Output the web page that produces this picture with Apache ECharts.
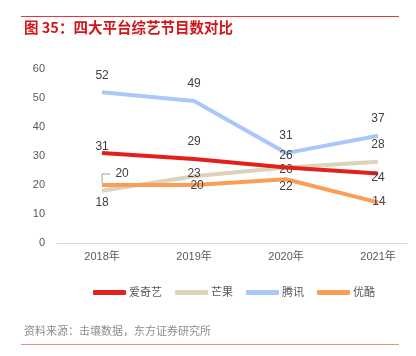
<!DOCTYPE html>
<html><head><meta charset="utf-8">
<script src="https://cdn.jsdelivr.net/npm/echarts@6/dist/echarts.min.js"></script>
<style>html,body{margin:0;padding:0;background:#fff}#c{width:416px;height:356px}</style>
</head><body><div id="c"></div>
<script>
const categories = ['2018年', '2019年', '2020年', '2021年'];
const iqiyi = [31, 29, 26, 24];
const mango = [18, 23, 26, 28];
const tencent = [52, 49, 31, 37];
const youku = [20, 20, 22, 14];
const yTicks = [0, 10, 20, 30, 40, 50, 60];
const seriesNames = ['爱奇艺', '芒果', '腾讯', '优酷'];

const colors = ['#e3201b', '#ddd3bc', '#a8c8fa', '#fb9d55'];
// label offsets (px) relative to each point, style only
const labelOffsets = [
  [[0, -6], [0, -17], [0, -12], [0, 4]],
  [[0, 12], [0, -3], [0, 2], [0, -17]],
  [[0, -17], [0, -17], [0, -17], [0, -17]],
  [[20, -11], [3, 1], [0, 7], [1, -1]]
];
const FONT = '"Liberation Sans", "Noto Sans CJK SC", sans-serif';
const allData = [iqiyi, mango, tencent, youku];

const series = allData.map((vals, si) => ({
  name: seriesNames[si],
  type: 'line',
  data: vals.map((v, i) => [i, v]),
  symbol: 'circle',
  symbolSize: 1,
  showSymbol: true,
  itemStyle: { color: colors[si] },
  lineStyle: { color: colors[si], width: 4 },
  z: si === 0 ? 5 : 2,
  label: {
    show: true,
    position: 'inside',
    color: '#404040',
    fontSize: 12,
    fontFamily: FONT,
    formatter: p => String(p.value[1])
  },
  labelLayout: p => {
    const o = labelOffsets[si][p.dataIndex];
    return { dx: o[0], dy: o[1] };
  },
  animation: false
}));

const chart = echarts.init(document.getElementById('c'), null, { renderer: 'canvas' });
const baseGraphic = [
  { id: 'topline', type: 'line', shape: { x1: 21, y1: 16.5, x2: 399, y2: 16.5 }, style: { stroke: '#e8383b', lineWidth: 1 } },
  { id: 'title', type: 'text', left: 24, top: 20, style: { text: '图 35：四大平台综艺节目数对比', fill: '#d0161b', font: 'bold 14.5px "Noto Sans CJK SC", sans-serif' } },
  { id: 'source', type: 'text', left: 24, top: 325, style: { text: '资料来源：击壤数据，东方证券研究所', fill: '#8c8c8c', font: '11px "Noto Sans CJK SC", sans-serif' } },
  { id: 'botline', type: 'line', shape: { x1: 21, y1: 344.5, x2: 399, y2: 344.5 }, style: { stroke: '#f08b86', lineWidth: 1 } }
];
chart.setOption({
  animation: false,
  textStyle: { fontFamily: FONT },
  grid: { left: 57, right: 9, top: 69, bottom: 113 },
  xAxis: {
    type: 'value',
    min: -0.49,
    max: 3.315,
    axisLine: { show: true, lineStyle: { color: '#d9d9d9', width: 1 } },
    axisTick: { show: false },
    splitLine: { show: false },
    axisLabel: {
      customValues: [0, 1, 2, 3],
      formatter: v => categories[Math.round(v)],
      color: '#595959', fontSize: 11, margin: 8, fontFamily: FONT
    }
  },
  yAxis: {
    type: 'value',
    min: yTicks[0],
    max: yTicks[yTicks.length - 1],
    interval: 10,
    axisLine: { show: false },
    axisTick: { show: false },
    splitLine: { show: false },
    axisLabel: { color: '#595959', fontSize: 11, margin: 12, fontFamily: FONT }
  },
  legend: {
    data: seriesNames,
    left: 88,
    top: 282,
    icon: 'roundRect',
    itemWidth: 33,
    itemHeight: 5,
    itemGap: 13,
    textStyle: { color: '#595959', fontSize: 11, padding: [0, 0, 0, -2] }
  },
  graphic: baseGraphic,
  series: series
});

// leader line for the 优酷 2018 label, anchored on the data point via the chart's scale
const anchor = chart.convertToPixel({ seriesIndex: 3 }, [0, youku[0]]);
chart.setOption({
  graphic: [{
    id: 'leader', type: 'polyline', z: 10,
    shape: { points: [[anchor[0], anchor[1] - 2], [anchor[0], anchor[1] - 11], [anchor[0] + 8, anchor[1] - 11]] },
    style: { stroke: '#a0a0a0', lineWidth: 1, fill: null }
  }]
});
</script></body></html>
